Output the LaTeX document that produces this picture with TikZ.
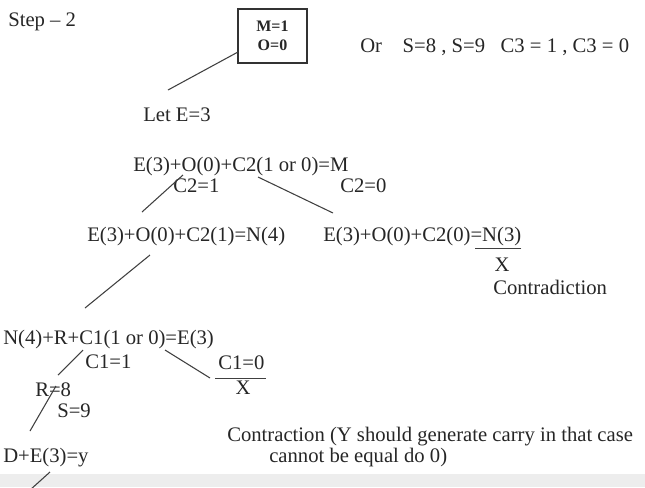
\documentclass[tikz,border=0pt]{standalone}
\usepackage{fontspec}
\setmainfont{Liberation Serif}
\begin{document}
\begin{tikzpicture}[x=0.75pt, y={(0pt,-0.75pt)},
    every node/.style={inner sep=0pt, anchor=west, text=black!85,
      font=\fontsize{15.5}{18}\selectfont},
    branch/.style={draw=black!75, line width=0.8pt}]
  \useasboundingbox (0,0) rectangle (645,487);
  \fill[black!7] (0,474) rectangle (645,487);

  \node (step) at (8,22) {Step -- 2};
  \node[draw=black!80, line width=0.9pt, anchor=center, align=center,
    minimum width=51.75pt, minimum height=40.5pt,
    font=\bfseries\fontsize{12}{14.25}\selectfont] (box) at (272.5,36) {M=1\\O=0};
  \node (alt) at (360,47) {Or\hspace{0.75em} S=8 , S=9\hspace{0.75em}C3 = 1 , C3 = 0};

  \node (let) at (143,115) {Let E=3};
  \node (eq1) at (133,167) {E(3)+O(0)+C2(1 or 0)=M};
  \node (c21) at (173,186) {C2=1};
  \node (c20) at (340,186) {C2=0};

  \node (eq2) at (87,237) {E(3)+O(0)+C2(1)=N(4)};
  \node (eq3) at (323,237) {E(3)+O(0)+C2(0)=N(3)};
  \node[anchor=center] (x1) at (502,265) {X};
  \node (contra) at (493,287) {Contradiction};

  \node (eq4) at (3,340) {N(4)+R+C1(1 or 0)=E(3)};
  \node (c11) at (85,362) {C1=1};
  \node (c10) at (218,363) {C1=0};
  \node[anchor=center] (x2) at (243,388) {X};
  \node (r8) at (35,390) {R=8};
  \node (s9) at (57,411) {S=9};

  \node (dey) at (3,458) {D+E(3)=y};
  \node (note) at (227,437) {Contraction (Y should generate carry in that case};
  \node (note2) at (269,458) {cannot be equal do 0)};

  % line ends
  \coordinate (boxfoot) at (238,52);
  \coordinate (lethead) at (168,90);
  \coordinate (eq1l) at (183,175);
  \coordinate (eq2head) at (142,212);
  \coordinate (eq1r) at (258,177);
  \coordinate (eq3head) at (333,213);
  \coordinate (eq2foot) at (150,255);
  \coordinate (eq4head) at (85,308);
  \coordinate (eq4l) at (83,350);
  \coordinate (r8head) at (58,375);
  \coordinate (r8foot) at (56,386);
  \coordinate (deyhead) at (30,431);
  \coordinate (eq4r) at (165,350);
  \coordinate (c10head) at (210,378);
  \coordinate (deyfoot) at (50,472);
  \coordinate (deyout) at (30,490);

  \draw[branch] (boxfoot) -- (lethead);
  \draw[branch] (eq1l) -- (eq2head);
  \draw[branch] (eq1r) -- (eq3head);
  \draw[branch] (eq2foot) -- (eq4head);
  \draw[branch] (eq4l) -- (r8head);
  \draw[branch] (r8foot) -- (deyhead);
  \draw[branch] (eq4r) -- (c10head);
  \draw[branch] (deyfoot) -- (deyout);

  % bars
  \draw[branch] ([yshift=-1.5pt]eq3.south east) -- ++(-46,0);
  \draw[branch] ([xshift=-2pt,yshift=-6pt]c10.south west) -- ([xshift=1pt,yshift=-6pt]c10.south east);
\end{tikzpicture}
\end{document}
